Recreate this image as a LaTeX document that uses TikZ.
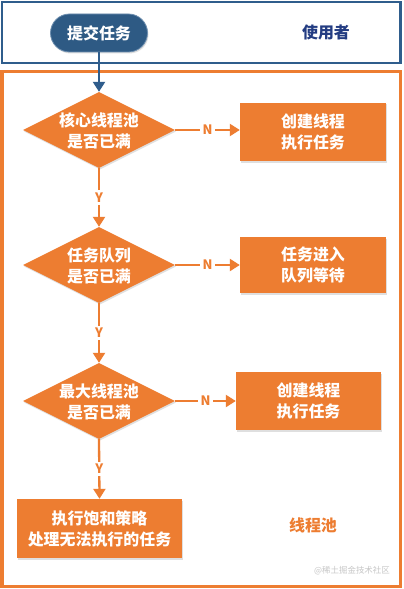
\documentclass[tikz,border=0pt]{standalone}
\usepackage{fontspec}
\newfontfamily\cjk{Noto Sans CJK SC}
\usetikzlibrary{shapes.geometric,arrows.meta,shadows}
\definecolor{orng}{HTML}{ED7D31}
\definecolor{bluefr}{HTML}{2F5D8C}
\definecolor{pillblue}{HTML}{2E5A84}
\definecolor{navy}{RGB}{35,60,130}
\tikzset{
  txt/.style={font=\cjk\bfseries\fontsize{16}{21}\selectfont, align=center},
  decision/.style={diamond, fill=orng, minimum width=152bp, minimum height=76bp, inner sep=0pt,
     drop shadow={opacity=0.25, shadow xshift=1bp, shadow yshift=-1.5bp}},
  actbox/.style={rectangle, fill=orng, inner sep=0pt,
     drop shadow={opacity=0.25, shadow xshift=1bp, shadow yshift=-1.5bp}},
  flow/.style={draw=orng, line width=2.3bp, -{Triangle[width=12bp,length=10bp]}},
  yn/.style={font=\cjk\bfseries\fontsize{13}{14}\selectfont, text=orng, fill=white, inner sep=2.5bp}
}
\begin{document}
\begin{tikzpicture}[x=1bp,y=-1bp]
\useasboundingbox (0,0) rectangle (403,589);
\fill[white] (0,0) rectangle (403,589);
% frames
\draw[bluefr, line width=2.8bp] (2,2) rectangle (400.5,63);
\draw[orng, line width=3bp] (2,72) rectangle (400.5,586);
% user area
\node[rectangle, rounded corners=19bp, fill=pillblue, draw=bluefr!70!white, line width=0.8bp,
      minimum width=97bp, minimum height=38bp, inner sep=0pt, text=white, txt,
      drop shadow={opacity=0.25, shadow xshift=1bp, shadow yshift=-1.5bp}] (submit) at (99,33) {提交任务};
\node[txt, text=navy] (user) at (326,32) {使用者};
% decisions
\node[decision] (d1) at (99,130) {};
\node[txt, text=white] (t1) at (99,131) {核心线程池\\是否已满};
\node[decision] (d2) at (99,265) {};
\node[txt, text=white] (t2) at (99,266) {任务队列\\是否已满};
\node[decision] (d3) at (99,401) {};
\node[txt, text=white] (t3) at (99,402) {最大线程池\\是否已满};
% action boxes
\node[actbox, minimum width=146bp, minimum height=58bp] (b1) at (313,132) {};
\node[txt, text=white] (bt1) at (313,132) {创建线程\\执行任务};
\node[actbox, minimum width=146bp, minimum height=56bp] (b2) at (313,265) {};
\node[txt, text=white] (bt2) at (313,265) {任务进入\\队列等待};
\node[actbox, minimum width=145bp, minimum height=58bp] (b3) at (308.5,401) {};
\node[txt, text=white] (bt3) at (308.5,401) {创建线程\\执行任务};
\node[actbox, minimum width=165bp, minimum height=59bp] (b4) at (99.5,528.5) {};
\node[txt, text=white] (bt4) at (99.5,529) {执行饱和策略\\处理无法执行的任务};
% labels
\node[txt, text=orng] (pool) at (313,525) {线程池};
\node[font=\cjk\fontsize{8.5}{10}\selectfont, text=black!22] (wm) at (352,571) {@稀土掘金技术社区};
% connectors
\draw[draw=bluefr, line width=2.3bp, -{Triangle[width=12bp,length=10bp]}] (submit.south) -- (d1.north);
\draw[flow] (d1.east) -- node[yn] {N} (b1.west |- d1.east);
\draw[flow] (d2.east) -- node[yn] {N} (b2.west |- d2.east);
\draw[flow] (d3.east) -- node[yn] {N} (b3.west |- d3.east);
\draw[flow] (d1.south) -- node[yn] {Y} (d2.north);
\draw[flow] (d2.south) -- node[yn] {Y} (d3.north);
\draw[flow] (d3.south) -- node[yn] {Y} (b4.north);
\end{tikzpicture}
\end{document}
